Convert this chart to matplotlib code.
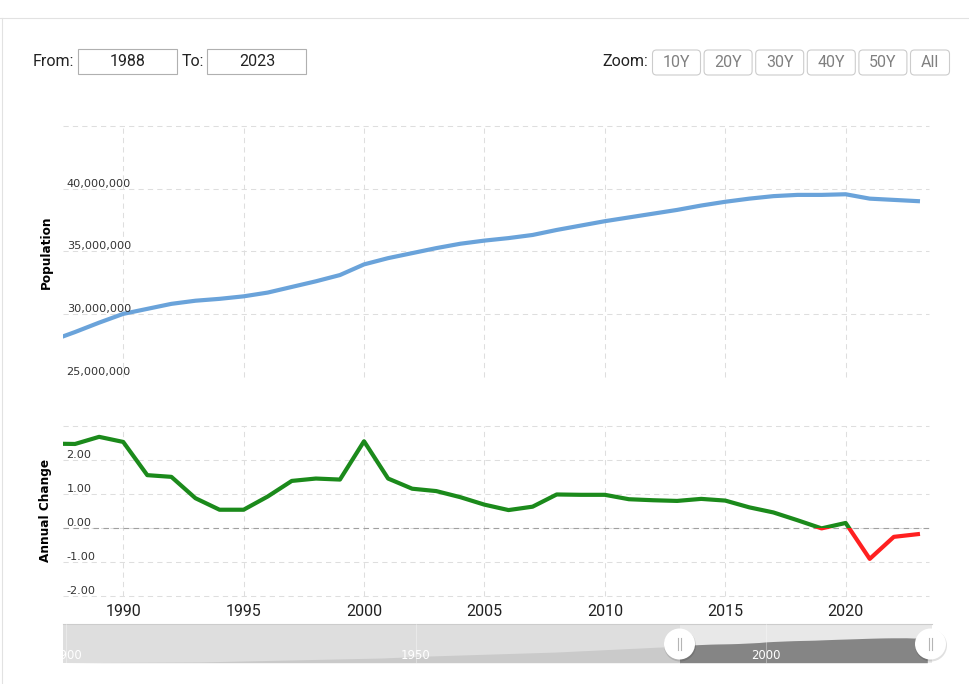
import matplotlib
matplotlib.use('Agg')
import matplotlib.pyplot as plt
from matplotlib.patches import Rectangle, FancyBboxPatch, Circle

W, H = 969, 684

# main chart data
years = list(range(1987, 2024))
population = [27.85, 28.55, 29.3, 30.0, 30.4, 30.8, 31.05, 31.2, 31.4, 31.7,
              32.15, 32.6, 33.1, 33.95, 34.45, 34.85, 35.25, 35.6, 35.85, 36.05,
              36.3, 36.7, 37.05, 37.4, 37.7, 38.0, 38.3, 38.65, 38.95, 39.2,
              39.4, 39.5, 39.5, 39.55, 39.2, 39.1, 39.0]
annual_change = [2.48, 2.47, 2.68, 2.53, 1.55, 1.5, 0.87, 0.53, 0.53, 0.92,
                 1.38, 1.45, 1.42, 2.55, 1.45, 1.15, 1.08, 0.9, 0.68, 0.52,
                 0.62, 0.98, 0.97, 0.97, 0.84, 0.81, 0.79, 0.85, 0.8, 0.6,
                 0.45, 0.22, -0.02, 0.14, -0.92, -0.27, -0.19]

# navigator history
hist_years = [1900, 1919, 1945, 1952, 1970, 1985, 1987.7]
hist_pop = [5.4, 6.4, 11.8, 14.6, 20.0, 26.9, 28.0]

x_ticks = [1990, 1995, 2000, 2005, 2010, 2015, 2020]
pop_grid = [30, 35, 40, 45]
pop_ticks = [25, 30, 35, 40]
pop_labels = ['25,000,000', '30,000,000', '35,000,000', '40,000,000']
change_grid = [-2, -1, 0, 1, 2, 3]
change_ticks = [-2, -1, 0, 1, 2]
change_labels = ['-2.00', '-1.00', '0.00', '1.00', '2.00']
zoom_labels = ['10Y', '20Y', '30Y', '40Y', '50Y', 'All']

plt.rcParams['font.family'] = ['Roboto', 'DejaVu Sans']

fig = plt.figure(figsize=(W / 100, H / 100), dpi=100)


def px_axes(left, top, right, bottom):
    return fig.add_axes([left / W, 1 - bottom / H, (right - left) / W, (bottom - top) / H])


# whole page layer in pixel coordinates, for the form controls
page = fig.add_axes([0, 0, 1, 1])
page.set_xlim(0, W)
page.set_ylim(H, 0)
page.axis('off')
page.plot([0, W], [18, 18], color='#e2e2e2', lw=0.8)
page.plot([2, 2], [18, H], color='#e2e2e2', lw=0.8)

page.text(33, 61, 'From:', fontsize=11.5, color='#222222', va='center')
page.text(182, 61, 'To:', fontsize=11.5, color='#222222', va='center')
for left, label in [(78, '1988'), (207, '2023')]:
    page.add_patch(Rectangle((left, 49), 99, 25, fc='white', ec='#b0b0b0', lw=0.8))
    page.text(left + 50, 61, label, fontsize=11.5, color='#222222', ha='center', va='center')

page.text(602, 62, 'Zoom:', fontsize=11.5, color='#222222', va='center')
for i, label in enumerate(zoom_labels):
    left = 652.5 + i * 51.6
    width = 48 if i < 5 else 39
    page.add_patch(FancyBboxPatch((left + 3, 53), width - 6, 19, boxstyle='round,pad=3,rounding_size=4',
                                  fc='white', ec='#cccccc', lw=0.8))
    page.text(left + width / 2, 62.5, label, fontsize=11.5, color='#808080', ha='center', va='center')

# population panel
ax1 = px_axes(63, 126, 928.5, 376.5)
ax1.set_xlim(1987.5, 2023.44)
ax1.set_ylim(25, 45)
ax1.plot(years, population, color='#6aa3da', lw=3, solid_joinstyle='round')

# annual change panel
ax2 = px_axes(63, 426, 928.5, 595.5)
ax2.set_xlim(1987.5, 2023.44)
ax2.set_ylim(-2, 3)
pos_line, = ax2.plot(years, annual_change, color='#1b8a1b', lw=3, zorder=4)
neg_line, = ax2.plot(years, annual_change, color='#ff2020', lw=3, zorder=4)
pos_line.set_clip_path(Rectangle((1987.5, 0), 36, 3, transform=ax2.transData))
neg_line.set_clip_path(Rectangle((1987.5, -2), 36, 2, transform=ax2.transData))
ax2.axhline(0, color='#a0a0a0', lw=0.8, ls=(0, (5, 4)), zorder=2)

for ax in (ax1, ax2):
    ax.set_xticks(x_ticks)
    ax.grid(True, color='#dedede', lw=0.75, ls=(0, (5, 4)), clip_on=False)
    ax.set_axisbelow(True)
    ax.patch.set_alpha(0)
    for spine in ax.spines.values():
        spine.set_visible(False)
    ax.tick_params(length=0)

ax1.set_yticks(pop_grid)
ax1.set_yticklabels([])
ax1.set_xticklabels([])
ax2.set_yticks(change_grid)
ax2.set_yticklabels([])
ax2.set_xticklabels(x_ticks, fontsize=11.5, color='#222222')
ax2.tick_params(axis='x', pad=6)

# y labels sit inside the plot, just above each gridline
for tick, label in zip(pop_ticks, pop_labels):
    ax1.annotate(label, (0, tick), xycoords=ax1.get_yaxis_transform(), xytext=(2.6, 0), textcoords='offset points',
                 fontsize=8.1, family='DejaVu Sans', color='#333333', va='bottom')
for tick, label in zip(change_ticks, change_labels):
    ax2.annotate(label, (0, tick), xycoords=ax2.get_yaxis_transform(), xytext=(2.6, 0), textcoords='offset points',
                 fontsize=8.1, family='DejaVu Sans', color='#333333', va='bottom')

page.text(46, 252, 'Population', rotation=90, fontsize=8.7, family='DejaVu Sans', fontweight='bold',
          color='black', ha='center', va='center')
page.text(46, 510, 'Annual Change', rotation=90, fontsize=8.7, family='DejaVu Sans', fontweight='bold',
          color='black', ha='center', va='center')

# navigator
nav = px_axes(63, 624, 931.5, 662.7)
nav.set_xlim(1899.6, 2023.6)
nav.set_ylim(5.4, 58.4)
nav.set_xticks([])
nav.set_yticks([])
for spine in nav.spines.values():
    spine.set_visible(False)
nav.spines['top'].set_visible(True)
nav.spines['top'].set_color('#cccccc')
nav.spines['top'].set_linewidth(0.8)
nav.set_facecolor('#e8e8e8')
nav.axvspan(1899.6, 1987.7, color='#dedede', lw=0, zorder=1)
nav.fill_between(hist_years, 5.4, hist_pop, color='#cacaca', lw=0, zorder=2)
dark = nav.fill_between(years, 5.4, population, color='#858585', lw=0, zorder=2)
dark.set_clip_path(Rectangle((1987.7, 5.4), 36, 53, transform=nav.transData))
for year, x_label, label in [(1900, 1900.2, '1900'), (1950, 1950, '1950'), (2000, 2000, '2000')]:
    nav.axvline(year, color='#ffffff', lw=0.6, alpha=0.4, zorder=3)
    nav.text(x_label, 15.5, label, color='white', fontsize=8.4, family='DejaVu Sans', ha='center', va='center',
             zorder=4, clip_on=True)

# navigator handles on top of everything
top = fig.add_axes([0, 0, 1, 1])
top.set_xlim(0, W)
top.set_ylim(H, 0)
top.axis('off')
for cx in (679.5, 930.5):
    top.add_patch(Circle((cx + 0.5, 645.5), 16, fc='#000000', alpha=0.12, lw=0))
    top.add_patch(Circle((cx, 644), 15.5, fc='white', lw=0))
    top.plot([cx - 1.5, cx - 1.5], [638, 650], color='#b5b5b5', lw=0.8)
    top.plot([cx + 1.5, cx + 1.5], [638, 650], color='#b5b5b5', lw=0.8)

fig.savefig('out.png', dpi=100)
